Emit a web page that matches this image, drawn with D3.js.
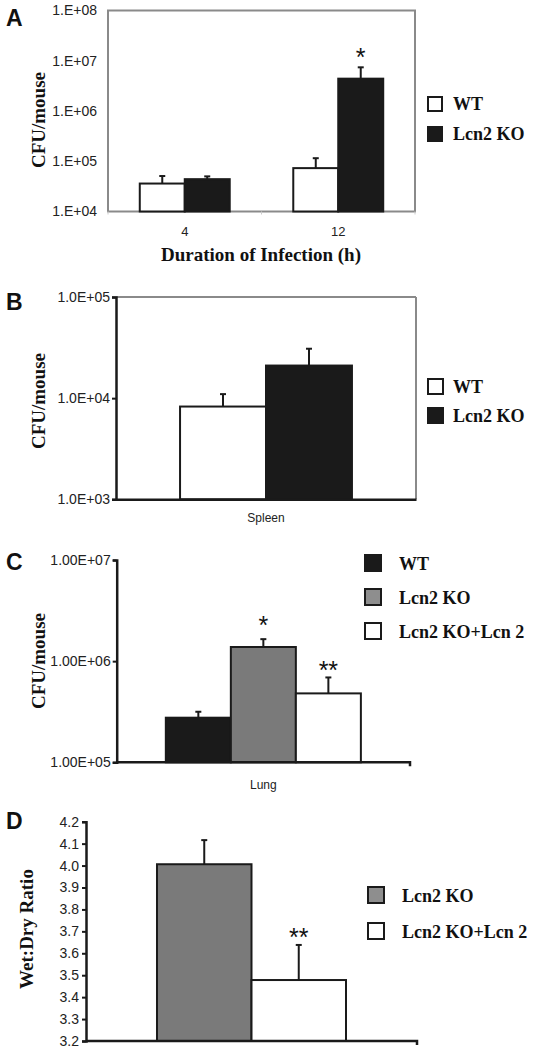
<!DOCTYPE html>
<html>
<head>
<meta charset="utf-8">
<script src="https://cdn.jsdelivr.net/npm/d3@7"></script>
<style>
  html, body { margin: 0; padding: 0; background: #fff; }
  svg { display: block; }
</style>
</head>
<body>
<script>
// ---------------- DATA ----------------
// Panel A
const aCategories = ["4", "12"];
const aSeries = ["WT", "Lcn2 KO"];
const aWT = [36000, 73000];
const aWTErr = [14800, 42000];
const aKO = [44000, 4400000];
const aKOErr = [6000, 3000000];
const aTickValues = [1e4, 1e5, 1e6, 1e7, 1e8];
const aTickLabels = ["1.E+04", "1.E+05", "1.E+06", "1.E+07", "1.E+08"];
const aStars = ["", "*"]; // over KO bars

// Panel B
const bCategories = ["Spleen"];
const bSeries = ["WT", "Lcn2 KO"];
const bValues = [8260, 21000];
const bErr = [2700, 9800];
const bTickValues = [1e3, 1e4, 1e5];
const bTickLabels = ["1.0E+03", "1.0E+04", "1.0E+05"];

// Panel C
const cCategories = ["Lung"];
const cSeries = ["WT", "Lcn2 KO", "Lcn2 KO+Lcn 2"];
const cValues = [276000, 1380000, 480000];
const cErr = [40000, 270000, 210000];
const cStars = ["", "*", "**"];
const cTickValues = [1e5, 1e6, 1e7];
const cTickLabels = ["1.00E+05", "1.00E+06", "1.00E+07"];

// Panel D
const dSeries = ["Lcn2 KO", "Lcn2 KO+Lcn 2"];
const dValues = [4.006, 3.478];
const dErr = [0.11, 0.16];
const dStars = ["", "**"];
const dTickValues = [3.2, 3.3, 3.4, 3.5, 3.6, 3.7, 3.8, 3.9, 4.0, 4.1, 4.2];
const dTickLabels = ["3.2", "3.3", "3.4", "3.5", "3.6", "3.7", "3.8", "3.9", "4.0", "4.1", "4.2"];

// ---------------- STYLE ----------------
const SANS = "'Liberation Sans', Arial, sans-serif";
const SERIF = "'Liberation Serif', 'Times New Roman', serif";
const BLACK = "#1a1a1a";
const GRAY_BAR = "#7a7a7a";
const GRAY_LEG = "#8e8e8e";
const BORDER = "#8a8a8a";

const svg = d3.select("body").append("svg")
  .attr("width", 539).attr("height", 1050)
  .attr("viewBox", "0 0 539 1050");

function panelLetter(txt, x, y) {
  svg.append("text").attr("x", x).attr("y", y)
    .attr("font-family", SANS).attr("font-weight", "bold")
    .attr("font-size", 23).attr("fill", "#111").text(txt);
}

function yTitle(txt, x, cy) {
  svg.append("text")
    .attr("transform", `translate(${x},${cy}) rotate(-90)`)
    .attr("text-anchor", "middle")
    .attr("font-family", SERIF).attr("font-weight", "bold")
    .attr("font-size", 19).attr("fill", "#111").text(txt);
}

function styleAxisText(g, size) {
  g.selectAll("text").attr("font-family", SANS).attr("font-size", size).attr("fill", "#222");
}

function legend(items, x, y0, step, size, textDx) {
  const g = svg.append("g");
  items.forEach((it, i) => {
    const y = y0 + i * step;
    g.append("rect").attr("x", x).attr("y", y).attr("width", size).attr("height", size)
      .attr("fill", it.fill).attr("stroke", BLACK).attr("stroke-width", 2);
    g.append("text").attr("x", x + textDx).attr("y", y + size - 1)
      .attr("font-family", SERIF).attr("font-weight", "bold")
      .attr("font-size", 18).attr("fill", "#111").text(it.label);
  });
}

function drawBar(g, x, w, yTop, yBase, fill) {
  g.append("rect").attr("x", x).attr("y", yTop).attr("width", w).attr("height", yBase - yTop)
    .attr("fill", fill).attr("stroke", BLACK).attr("stroke-width", 2);
}

function drawErr(g, cx, yTop, yErr) {
  g.append("line").attr("x1", cx).attr("x2", cx).attr("y1", yTop).attr("y2", yErr)
    .attr("stroke", BLACK).attr("stroke-width", 2);
  g.append("line").attr("x1", cx - 3).attr("x2", cx + 3).attr("y1", yErr).attr("y2", yErr)
    .attr("stroke", BLACK).attr("stroke-width", 2);
}

function drawStar(g, cx, yErr, txt, gap) {
  if (!txt) return;
  g.append("text").attr("x", cx).attr("y", yErr - gap)
    .attr("text-anchor", "middle").attr("font-family", SANS)
    .attr("font-size", 25).attr("fill", "#111").text(txt);
}

// ---------------- PANEL A ----------------
{
  const left = 108, right = 415, top = 10.5, bottom = 211.5;
  const x0 = d3.scaleBand().domain(aCategories).range([left, right]);
  const groupW = x0.bandwidth() * 0.586;
  const x1 = d3.scaleBand().domain(aSeries).range([0, groupW]);
  const y = d3.scaleLog().domain([1e4, 1e8]).range([bottom, top]);
  const g = svg.append("g");

  g.append("rect").attr("x", left).attr("y", top).attr("width", right - left).attr("height", bottom - top)
    .attr("fill", "none").attr("stroke", BORDER).attr("stroke-width", 2);

  const bounds = [left, left + x0.bandwidth(), right];
  bounds.forEach(b => g.append("line").attr("x1", b).attr("x2", b).attr("y1", bottom).attr("y2", bottom + 3)
    .attr("stroke", "#ccc").attr("stroke-width", 1));

  const ax = g.append("g").attr("transform", `translate(${left},0)`)
    .call(d3.axisLeft(y).tickValues(aTickValues).tickSize(0).tickPadding(11)
      .tickFormat((d, i) => aTickLabels[i]));
  ax.select(".domain").remove();
  styleAxisText(ax, 14);

  const xa = g.append("g").attr("transform", `translate(0,${bottom})`)
    .call(d3.axisBottom(x0).tickSize(0).tickPadding(15));
  xa.select(".domain").remove();
  styleAxisText(xa, 13);

  const series = [
    { vals: aWT, err: aWTErr, fill: "#fff", key: aSeries[0], stars: ["", ""] },
    { vals: aKO, err: aKOErr, fill: BLACK, key: aSeries[1], stars: aStars }
  ];
  aCategories.forEach((c, i) => {
    const gx = x0(c) + (x0.bandwidth() - groupW) / 2;
    series.forEach(s => {
      const bx = gx + x1(s.key);
      const w = x1.bandwidth();
      drawBar(g, bx, w, y(s.vals[i]), bottom, s.fill);
      const ye = y(s.vals[i] + s.err[i]);
      drawErr(g, bx + w / 2, y(s.vals[i]), ye);
      drawStar(g, bx + w / 2, ye, s.stars[i], 1);
    });
  });

  svg.append("text").attr("x", 261).attr("y", 261)
    .attr("text-anchor", "middle").attr("font-family", SERIF).attr("font-weight", "bold")
    .attr("font-size", 19).attr("fill", "#111").text("Duration of Infection (h)");

  yTitle("CFU/mouse", 45, 120);
  panelLetter("A", 6, 26);
  legend([{ label: aSeries[0], fill: "#fff" }, { label: aSeries[1], fill: BLACK }], 428, 97, 30, 14, 25);
}

// ---------------- PANEL B ----------------
{
  const left = 116, right = 416, top = 297, bottom = 499.3;
  const x0 = d3.scaleBand().domain(bCategories).range([left, right]);
  const groupW = x0.bandwidth() * 0.573;
  const x1 = d3.scaleBand().domain(bSeries).range([0, groupW]);
  const y = d3.scaleLog().domain([1e3, 1e5]).range([bottom, top]);
  const g = svg.append("g");

  g.append("line").attr("x1", left).attr("x2", right).attr("y1", top).attr("y2", top)
    .attr("stroke", BORDER).attr("stroke-width", 2);
  g.append("line").attr("x1", right).attr("x2", right).attr("y1", top).attr("y2", bottom)
    .attr("stroke", BORDER).attr("stroke-width", 2);

  const fills = ["#fff", BLACK];
  const gx = x0(bCategories[0]) + (x0.bandwidth() - groupW) / 2;
  bSeries.forEach((s, i) => {
    const bx = gx + x1(s), w = x1.bandwidth();
    drawBar(g, bx, w, y(bValues[i]), bottom, fills[i]);
    drawErr(g, bx + w / 2, y(bValues[i]), y(bValues[i] + bErr[i]));
  });

  const ax = g.append("g").attr("transform", `translate(${left},0)`)
    .call(d3.axisLeft(y).tickValues(bTickValues).tickSize(4).tickPadding(2)
      .tickFormat((d, i) => bTickLabels[i]));
  ax.select(".domain").attr("stroke", BLACK).attr("stroke-width", 2.5);
  ax.selectAll(".tick line").attr("stroke", BLACK).attr("stroke-width", 2);
  styleAxisText(ax, 14);

  const xa = g.append("g").attr("transform", `translate(0,${bottom})`)
    .call(d3.axisBottom(x0).tickSize(0).tickPadding(14));
  xa.select(".domain").attr("stroke", BLACK).attr("stroke-width", 2.5);
  styleAxisText(xa, 12);

  yTitle("CFU/mouse", 45, 401);
  panelLetter("B", 6, 310);
  legend([{ label: bSeries[0], fill: "#fff" }, { label: bSeries[1], fill: BLACK }], 428, 379, 29, 15, 25);
}

// ---------------- PANEL C ----------------
{
  const left = 116.7, right = 410, top = 560, bottom = 762.3;
  const x0 = d3.scaleBand().domain(cCategories).range([left, right]);
  const groupW = x0.bandwidth() * 0.665;
  const x1 = d3.scaleBand().domain(cSeries).range([0, groupW]);
  const y = d3.scaleLog().domain([1e5, 1e7]).range([bottom, top]);
  const g = svg.append("g");

  const fills = [BLACK, GRAY_BAR, "#fff"];
  const gx = x0(cCategories[0]) + (x0.bandwidth() - groupW) / 2;
  cSeries.forEach((s, i) => {
    const bx = gx + x1(s), w = x1.bandwidth();
    drawBar(g, bx, w, y(cValues[i]), bottom, fills[i]);
    const ye = y(cValues[i] + cErr[i]);
    drawErr(g, bx + w / 2, y(cValues[i]), ye);
    drawStar(g, bx + w / 2, ye, cStars[i], i === 1 ? 5 : -2);
  });

  const ax = g.append("g").attr("transform", `translate(${left},0)`)
    .call(d3.axisLeft(y).tickValues(cTickValues).tickSize(4).tickPadding(2)
      .tickFormat((d, i) => cTickLabels[i]));
  ax.select(".domain").attr("stroke", BLACK).attr("stroke-width", 2.5);
  ax.selectAll(".tick line").attr("stroke", BLACK).attr("stroke-width", 2);
  styleAxisText(ax, 14);

  const xa = g.append("g").attr("transform", `translate(0,${bottom})`)
    .call(d3.axisBottom(x0).tickSize(0).tickPadding(18));
  xa.select(".domain").remove();
  styleAxisText(xa, 12);
  g.append("path").attr("d", `M${left},${bottom}H${right}V${bottom + 4}`)
    .attr("fill", "none").attr("stroke", BLACK).attr("stroke-width", 2.5);

  yTitle("CFU/mouse", 45, 661);
  panelLetter("C", 6, 570);
  legend(cSeries.map((s, i) => ({ label: s, fill: [BLACK, GRAY_LEG, "#fff"][i] })), 365, 555, 34, 16, 34);
}

// ---------------- PANEL D ----------------
{
  const left = 86, right = 417, top = 821.7, bottom = 1041;
  const x0 = d3.scaleBand().domain(["x"]).range([left, right]);
  const groupW = x0.bandwidth() * 0.571;
  const x1 = d3.scaleBand().domain(dSeries).range([0, groupW]);
  const y = d3.scaleLinear().domain([3.2, 4.2]).range([bottom, top]);
  const g = svg.append("g");

  const fills = [GRAY_BAR, "#fff"];
  const gx = x0("x") + (x0.bandwidth() - groupW) / 2;
  dSeries.forEach((s, i) => {
    const bx = gx + x1(s), w = x1.bandwidth();
    drawBar(g, bx, w, y(dValues[i]), bottom, fills[i]);
    const ye = y(dValues[i] + dErr[i]);
    drawErr(g, bx + w / 2, y(dValues[i]), ye);
    drawStar(g, bx + w / 2, ye, dStars[i], -1);
  });

  const ax = g.append("g").attr("transform", `translate(${left},0)`)
    .call(d3.axisLeft(y).tickValues(dTickValues).tickSize(4).tickPadding(3)
      .tickFormat((d, i) => dTickLabels[i]));
  ax.select(".domain").attr("stroke", BLACK).attr("stroke-width", 2.5);
  ax.selectAll(".tick line").attr("stroke", BLACK).attr("stroke-width", 2);
  styleAxisText(ax, 14);

  g.append("path").attr("d", `M${left},${bottom}H${right}V${bottom + 4}`)
    .attr("fill", "none").attr("stroke", BLACK).attr("stroke-width", 2.5);

  yTitle("Wet:Dry Ratio", 33, 929);
  panelLetter("D", 6, 829);
  legend(dSeries.map((s, i) => ({ label: s, fill: [GRAY_LEG, "#fff"][i] })), 368, 887, 36, 16, 34);
}
</script>
</body>
</html>
